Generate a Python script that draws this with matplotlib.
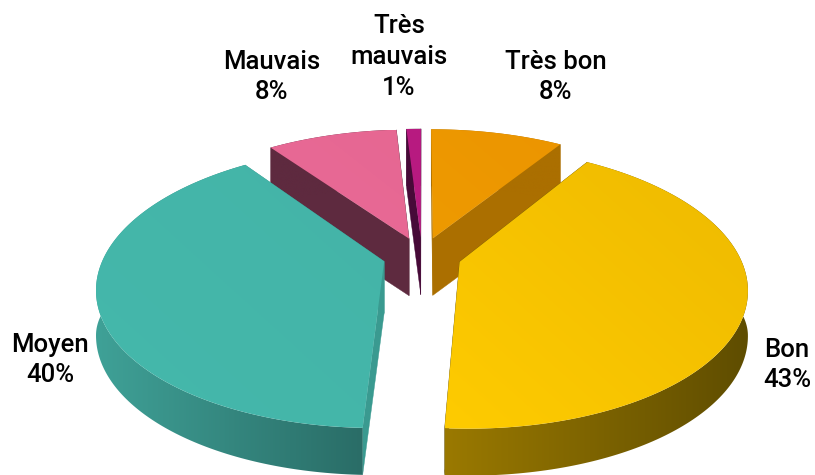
import numpy as np
import matplotlib
matplotlib.use('Agg')
import matplotlib.pyplot as plt
from matplotlib.colors import LinearSegmentedColormap
from matplotlib.patches import Polygon

plt.rcParams['font.family'] = ['Roboto', 'DejaVu Sans']

# clockwise from the top, same order as the slices in the picture
labels = ['Très bon', 'Bon', 'Moyen', 'Mauvais', 'Très\nmauvais']
percents = [8, 43, 40, 8, 1]
shares = [9.1, 41.7, 39.25, 8.95, 1.0]
# Bon and Moyen run slightly past their shared edge in the picture
pad_start = [0, 0, 0.7, 0, 0]
pad_stop = [0, 1.0, 0, 0, 0]

top_a = ['#ee9a00', '#fecb00', '#45b8ab', '#e96a97', '#b81b82']
top_b = ['#ec9500', '#eeba00', '#44b4a8', '#e66792', '#b71a80']
side_col = ['#ab6f00', '#6b5500', '#3a9a90', '#5e2a3f', '#470a38']
rim_left = ['#ab6f00', '#9a7900', '#3fa197', '#5e2a3f', '#470a38']
rim_right = ['#ab6f00', '#5f4d00', '#2a6d67', '#5e2a3f', '#470a38']

label_x = [556, 787, 50, 272, 399]
label_y = [77, 365, 360, 77, 57]

# perspective projection of the ground plane
cx, cy = 422, 256
a, b, k = 280, 134.5, 0.18
explode = 0.14


def project(X, Y):
    d = 1 + k * Y
    return cx + a * X / d, cy - b * Y / d


def depth(y):
    return np.interp(y, [240, 290, 428], [57, 45, 47])


def gradient_fill(ax, xs, ys, c0, c1, z, diag=False):
    # polygon filled by an image, so no seams between strips
    poly = Polygon(list(zip(xs, ys)), closed=True, fc='none', ec='none')
    ax.add_patch(poly)
    cmap = LinearSegmentedColormap.from_list('g', [c0, c1])
    xx, yy = np.meshgrid(np.linspace(0, 1, 128), np.linspace(0, 1, 128))
    data = (xx + (1 - yy)) / 2 if diag else xx
    im = ax.imshow(data, cmap=cmap, vmin=0, vmax=1, aspect='auto', origin='upper',
                   extent=(min(xs), max(xs), max(ys), min(ys)), zorder=z)
    im.set_clip_path(poly)


def draw_slice(ax, i, start, stop, z):
    mid = (start + stop) / 2
    dx = explode * np.sin(mid)
    dy = explode * np.cos(mid)
    ox, oy = project(dx, dy)
    th = np.linspace(start - np.radians(pad_start[i]), stop + np.radians(pad_stop[i]), 160)
    rx, ry = project(np.sin(th) + dx, np.cos(th) + dy)

    # radial walls
    for px, py in [(rx[0], ry[0]), (rx[-1], ry[-1])]:
        pts = [(ox, oy), (px, py), (px, py + depth(py)), (ox, oy + depth(oy))]
        ax.add_patch(Polygon(pts, closed=True, fc=side_col[i], ec=side_col[i], lw=0.3, zorder=z))

    # outer wall, shaded left to right
    wx = np.r_[rx, rx[::-1]]
    wy = np.r_[ry, ry[::-1] + depth(ry[::-1])]
    gradient_fill(ax, wx, wy, rim_left[i], rim_right[i], z + 0.1)

    # top face
    gradient_fill(ax, np.r_[ox, rx], np.r_[oy, ry], top_a[i], top_b[i], z + 0.2, diag=True)


fig = plt.figure(figsize=(8.15, 4.75), dpi=100)
ax = fig.add_axes([0, 0, 1, 1])

edges = np.r_[0, np.cumsum(shares)] / sum(shares) * 2 * np.pi

# back slices first, front ones over them
for z, i in enumerate([4, 3, 0, 2, 1]):
    draw_slice(ax, i, edges[i], edges[i + 1], z + 1)

for i in range(len(labels)):
    ax.text(label_x[i], label_y[i], '%s\n%d%%' % (labels[i], percents[i]),
            ha='center', va='center', ma='center', fontsize=18.5,
            fontweight='medium', color='black', linespacing=1.36, zorder=20)

ax.set_xlim(0, 815)
ax.set_ylim(475, 0)
ax.axis('off')
fig.savefig('out.png', dpi=100, facecolor='white')
